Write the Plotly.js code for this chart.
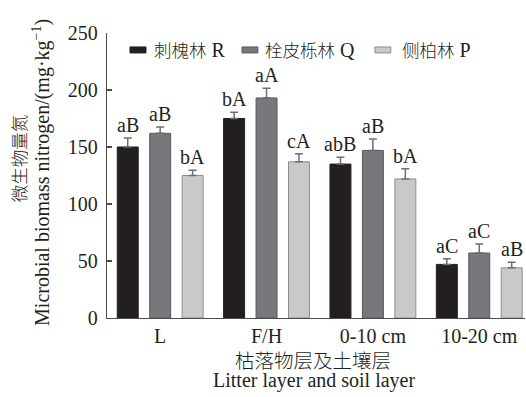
<!DOCTYPE html>
<html>
<head>
<meta charset="utf-8">
<script src="https://cdn.plot.ly/plotly-3.0.1.min.js"></script>
<style>html,body{margin:0;padding:0;background:#fff;}#chart{width:526px;height:397px;}</style>
</head>
<body>
<div id="chart"></div>
<script>
// ---- data ----
const categories = ['L', 'F/H', '0-10 cm', '10-20 cm'];
const seriesNames = ['刺槐林 R', '栓皮栎林 Q', '侧柏林 P'];
const robinia = [150, 175, 135, 47];
const robiniaErr = [8, 5.5, 6, 5];
const quercus = [162, 193, 147, 57];
const quercusErr = [5.5, 8.5, 10, 8];
const platycladus = [125, 137, 122, 44];
const platycladusErr = [4.5, 7, 9, 5];
const robiniaLetters = ['aB', 'bA', 'abB', 'aC'];
const quercusLetters = ['aB', 'aA', 'aB', 'aC'];
const platycladusLetters = ['bA', 'cA', 'bA', 'aB'];
const yTicks = [0, 50, 100, 150, 200, 250];

// ---- style ----
const fills = ['#231f20', '#77787b', '#c8c9cb'];
const outlines = ['#231f20', '#58595b', '#8d8e90'];
const serif = '"Liberation Serif", "Times New Roman", "Noto Sans CJK SC", serif';
const cjk = '"Noto Sans CJK SC", "Liberation Serif", sans-serif';
const txt = '#231f20';
const bargap = 0.085;
const slot = (1 - bargap) / 3;

const values = [robinia, quercus, platycladus];
const errs = [robiniaErr, quercusErr, platycladusErr];
const letters = [robiniaLetters, quercusLetters, platycladusLetters];

const traces = values.map((v, j) => ({
  type: 'bar',
  name: seriesNames[j],
  x: categories,
  y: v,
  marker: {color: fills[j], line: {color: outlines[j], width: 1}},
  error_y: {type: 'data', array: errs[j], arrayminus: v.map(() => 0), symmetric: false,
            color: '#6d6e71', thickness: 1.5, width: 4},
  showlegend: false,
  hoverinfo: 'x+y'
}));

const annotations = [];
values.forEach((v, j) => {
  v.forEach((val, i) => {
    annotations.push({
      xref: 'x', yref: 'y', x: i + (j - 1) * slot, y: val + errs[j][i],
      text: letters[j][i], showarrow: false, xanchor: 'center', yanchor: 'bottom',
      yshift: 0, font: {family: serif, size: 20, color: txt}
    });
  });
});

// custom legend
const legendX = [[0.055, 0.0933, 0.1077], [0.323, 0.361, 0.373], [0.641, 0.679, 0.701]];
const shapes = [];
seriesNames.forEach((name, j) => {
  shapes.push({type: 'rect', xref: 'paper', yref: 'paper', x0: legendX[j][0], x1: legendX[j][1],
    y0: 0.930, y1: 0.951, fillcolor: fills[j], line: {color: outlines[j], width: 1}});
  const parts = name.split(' ');
  annotations.push({xref: 'paper', yref: 'paper', x: legendX[j][2], y: 0.943,
    xanchor: 'left', yanchor: 'middle', showarrow: false,
    text: '<span style="font-size:17.5px;font-family:Noto Sans CJK SC;font-weight:300">' + parts[0] + '</span> ' + parts[1],
    font: {family: serif, size: 20, color: txt}});
});

// axis titles as annotations
annotations.push({xref: 'paper', yref: 'paper', x: -0.213, y: 0.56, textangle: -90,
  xanchor: 'center', yanchor: 'middle', showarrow: false, text: '微生物量氮',
  font: {family: cjk, size: 17.5, color: txt, weight: 300}});
annotations.push({xref: 'paper', yref: 'paper', x: -0.1555, y: 0.509, textangle: -90,
  xanchor: 'center', yanchor: 'middle', showarrow: false,
  text: 'Microbial biomass nitrogen/(mg·kg<sup>−1</sup>)',
  font: {family: serif, size: 20, color: txt}});
annotations.push({xref: 'paper', yref: 'paper', x: 0.494, y: -0.145,
  xanchor: 'center', yanchor: 'middle', showarrow: false, text: '枯落物层及土壤层',
  font: {family: cjk, size: 19.5, color: txt, weight: 300}});
annotations.push({xref: 'paper', yref: 'paper', x: 0.496, y: -0.2195,
  xanchor: 'center', yanchor: 'middle', showarrow: false, text: 'Litter layer and soil layer',
  font: {family: serif, size: 20, color: txt}});

const layout = {
  width: 526, height: 397,
  margin: {l: 107, r: 1, t: 33, b: 79, pad: 0},
  paper_bgcolor: '#fff', plot_bgcolor: '#fff',
  barmode: 'group', bargap: bargap, bargroupgap: 0.354,
  showlegend: false,
  font: {family: serif, size: 20, color: txt},
  xaxis: {type: 'category', range: [-0.5, 3.43], showline: true, linecolor: '#4d4d4f', linewidth: 1.3,
          ticks: '', showgrid: false, zeroline: false, tickfont: {family: serif, size: 20, color: txt},
          ticklabelstandoff: 0},
  yaxis: {range: [0, 250], tickvals: yTicks, ticktext: yTicks.map(String), showline: true,
          linecolor: '#4d4d4f', linewidth: 1.3, ticks: 'inside', ticklen: 5, tickcolor: '#4d4d4f',
          tickwidth: 1.3, showgrid: false, zeroline: false,
          tickfont: {family: serif, size: 20, color: txt}, ticklabelstandoff: 4},
  annotations: annotations,
  shapes: shapes
};

Plotly.newPlot('chart', traces, layout, {displayModeBar: false, staticPlot: true});
</script>
</body>
</html>
